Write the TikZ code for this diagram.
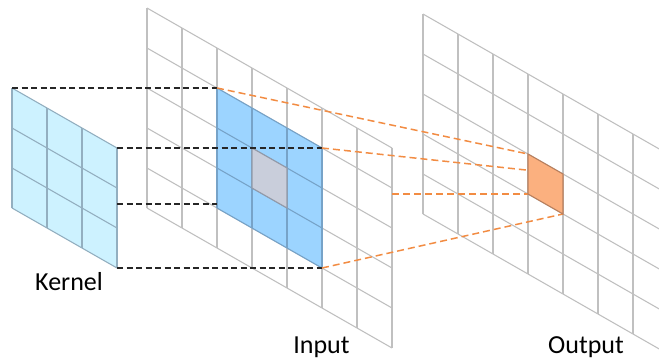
\documentclass[tikz,border=0pt]{standalone}
\usepackage{fontspec}
\setmainfont{Carlito}
\usepackage{xcolor}
\usepackage{tikz}
\usetikzlibrary{positioning}
\definecolor{cGrid}{HTML}{C0C0C0}
\definecolor{cKern}{HTML}{CDF2FF}
\definecolor{cKernL}{HTML}{93AFC0}
\definecolor{cHl}{HTML}{9CD4FF}
\definecolor{cHlL}{HTML}{77A3C8}
\definecolor{cMid}{HTML}{C9CEDB}
\definecolor{cMidL}{HTML}{939AA8}
\definecolor{cOut}{HTML}{FBB07F}
\definecolor{cOutL}{HTML}{B9805E}
\definecolor{cDashO}{HTML}{F28C43}
\tikzset{
  gline/.style = {draw=cGrid, line width=1.1pt},
  kline/.style = {draw=cKernL, line width=1.1pt},
  hline/.style = {draw=cHlL, line width=1.1pt},
  hl/.style    = {fill=cHl},
  mid/.style   = {fill=cMid, draw=cMidL, line width=1.1pt},
  res/.style   = {fill=cOut, draw=cOutL, line width=1.1pt},
  fk/.style    = {draw=black!85, line width=1.4pt, dash pattern=on 6pt off 3.5pt},
  fo/.style    = {draw=cDashO, line width=1.5pt, dash pattern=on 7pt off 4pt},
  lbl/.style   = {font=\fontsize{26}{30}\selectfont, inner sep=0pt, anchor=base},
}
% slanted grid: style, left x, top y, columns, rows
\newcommand{\skewgrid}[5]{%
  \begin{scope}[shift={(#2,#3)}, x={(35pt,-20pt)}, y={(0pt,-40pt)}]
    \foreach \i in {0,...,#4} \draw[#1] (\i,0) -- (\i,#5);
    \foreach \j in {0,...,#5} \draw[#1] (0,\j) -- (#4,\j);
  \end{scope}}

\begin{document}
\begin{tikzpicture}[x=1pt, y=-1pt]
  \useasboundingbox (0,0) rectangle (659,361);
  \clip (0,0) rectangle (659,361);

  % corners
  \coordinate (ktl) at (12,88);   \coordinate (ktr) at (117,148);
  \coordinate (kbr) at (117,268); \coordinate (kbl) at (12,208);
  \coordinate (km)  at (117,204);
  \coordinate (btl) at (217,88);  \coordinate (btr) at (322,148);
  \coordinate (bbr) at (322,268); \coordinate (bbl) at (217,208);
  \coordinate (bm)  at (217,204);
  \coordinate (im)  at (392,194);
  \coordinate (otl) at (528,154); \coordinate (otr) at (563,174);
  \coordinate (obr) at (563,214); \coordinate (obl) at (528,194);

  % input plane
  \skewgrid{gline}{147}{8}{7}{5}
  \fill[hl] (btl) -- (btr) -- (bbr) -- (bbl) -- cycle;
  \skewgrid{hline}{217}{88}{3}{3}
  \draw[mid] (252,148) -- (287,168) -- (287,208) -- (252,188) -- cycle;

  % output plane
  \skewgrid{gline}{423}{14}{7}{5}

  % kernel
  \fill[cKern] (ktl) -- (ktr) -- (kbr) -- (kbl) -- cycle;
  \skewgrid{kline}{12}{88}{3}{3}

  % projections
  \draw[fk] (ktl) -- (btl);
  \draw[fk] (ktr) -- (btr);
  \draw[fk] (km) -- (bm);
  \draw[fk] (kbr) -- (bbr);
  \draw[fo] (btl) -- (otl);
  \draw[fo] (btr) -- (otr);
  \draw[fo] (im) -- (obl);
  \draw[fo] (bbr) -- (obr);
  \draw[res] (otl) -- (otr) -- (obr) -- (obl) -- cycle;

  \node[lbl] (kname) at (69,290) {Kernel};
  \node[lbl] (iname) at (321.5,353) {Input};
  \node[lbl] (oname) at (586,353) {Output};
\end{tikzpicture}
\end{document}
